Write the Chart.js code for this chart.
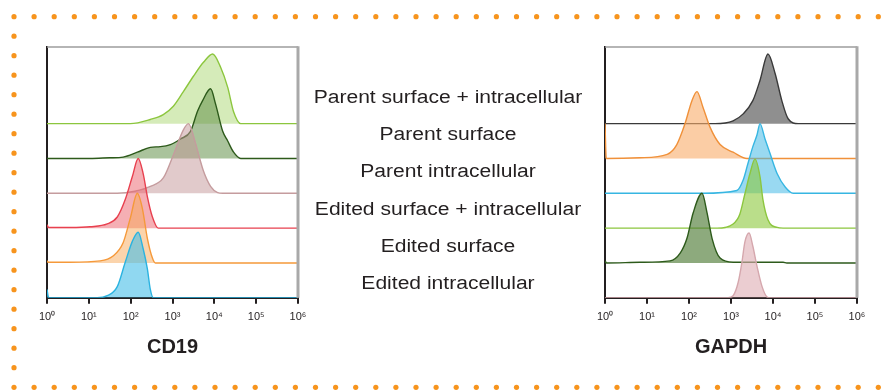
<!DOCTYPE html>
<html>
<head>
<meta charset="utf-8">
<script src="https://cdn.jsdelivr.net/npm/chart.js@4.4.1/dist/chart.umd.min.js"></script>
<style>
    html, body { margin: 0; padding: 0; background: #fff; }
    body { width: 894px; height: 390px; position: relative; overflow: hidden; }
    #dots { position: absolute; left: 0; top: 0; }
    .panel { position: absolute; top: 0; height: 370px; }
    #cd19Panel { left: 0; width: 330px; }
    #gapdhPanel { left: 560px; width: 334px; }
    .sample {
        position: absolute; left: 298px; width: 300px; text-align: center;
        font: 18px "Liberation Sans", Arial, sans-serif; color: #231f20;
        line-height: 20px; transform: scaleX(1.17); transform-origin: center;
    }
</style>
</head>
<body>
<svg id="dots" width="894" height="390"></svg>
<div class="panel" id="cd19Panel"><canvas id="cd19Chart"></canvas></div>
<div class="panel" id="gapdhPanel"><canvas id="gapdhChart"></canvas></div>
<div id="sampleLabels"></div>
<script>
// Row names, listed from the top row down
const sampleLabels = [
    'Parent surface + intracellular',
    'Parent surface',
    'Parent intracellular',
    'Edited surface + intracellular',
    'Edited surface',
    'Edited intracellular'
];

// Axis ticks, one per decade (10^0 .. 10^6)
const tickLabels = ['10⁰', '10¹', '10²', '10³', '10⁴', '10⁵', '10⁶'];

// Histograms: [log10 intensity, % of mode]
// CD19
const cd19EditedIntra = [[0, 12], [0.04, 0], [1.2, 0], [1.44, 3], [1.68, 16], [1.87, 51], [2.04, 81], [2.18, 94], [2.30, 70], [2.40, 41], [2.47, 12], [2.54, 0], [6, 0]];
const cd19EditedSurf = [[0, 3], [0.04, 1], [0.55, 1], [1.27, 3], [1.58, 10], [1.82, 29], [1.99, 64], [2.16, 100], [2.28, 78], [2.40, 35], [2.52, 7], [2.59, 0], [6, 0]];
const cd19EditedBoth = [[0, 5], [0.04, 1], [0.55, 1], [1.03, 2], [1.44, 6], [1.68, 16], [1.87, 41], [2.04, 74], [2.18, 100], [2.30, 78], [2.40, 45], [2.52, 16], [2.66, 0], [6, 0]];
const cd19ParentIntra = [[0, 0], [1.68, 0], [2.1, 3], [2.47, 10], [2.78, 22], [3.02, 55], [3.26, 91], [3.38, 100], [3.55, 72], [3.60, 61], [3.74, 32], [3.91, 10], [4.08, 1], [4.20, 0], [6, 0]];
const cd19ParentSurf = [[0, 0], [1.03, 0], [1.5, 1], [1.82, 2], [2.16, 9], [2.47, 16], [2.71, 17], [2.95, 20], [3.19, 28], [3.43, 39], [3.60, 68], [3.72, 83], [3.91, 100], [4.03, 78], [4.20, 39], [4.32, 25], [4.46, 9], [4.63, 0], [6, 0]];
const cd19ParentBoth = [[0, 0], [1.99, 0], [2.47, 6], [2.78, 13], [3.02, 25], [3.26, 46], [3.50, 68], [3.74, 88], [3.96, 100], [4.15, 81], [4.32, 52], [4.46, 17], [4.63, 0], [6, 0]];

// GAPDH
const gapdhEditedIntra = [[0, 0], [2.93, 0], [3.05, 3], [3.17, 22], [3.26, 51], [3.33, 80], [3.43, 93], [3.52, 74], [3.62, 45], [3.74, 16], [3.86, 1], [3.93, 0], [6, 0]];
const gapdhEditedSurf = [[0, 3], [0.04, 0], [0.83, 1], [1.55, 3], [1.79, 14], [1.95, 35], [2.10, 72], [2.31, 100], [2.43, 72], [2.55, 35], [2.74, 7], [3.05, 1], [4.24, 1], [4.33, 0], [6, 0]];
const gapdhEditedBoth = [[0, 0], [2.67, 0], [3.05, 6], [3.21, 20], [3.33, 49], [3.45, 78], [3.57, 99], [3.69, 74], [3.76, 41], [3.88, 12], [4.10, 1], [4.24, 0], [6, 0]];
const gapdhParentIntra = [[0, 0], [2.33, 0], [3.14, 4], [3.29, 19], [3.40, 42], [3.52, 67], [3.62, 84], [3.69, 100], [3.81, 78], [3.93, 57], [4.10, 28], [4.29, 9], [4.48, 0], [6, 0]];
const gapdhParentSurf = [[0, 50], [0.03, 0], [0.83, 1], [1.48, 6], [1.71, 20], [1.90, 49], [2.07, 83], [2.19, 96], [2.33, 74], [2.50, 45], [2.74, 20], [3.05, 9], [3.38, 0], [6, 0]];
const gapdhParentBoth = [[0, 0], [2.62, 0], [3.05, 4], [3.29, 14], [3.52, 33], [3.69, 62], [3.88, 100], [4.05, 72], [4.21, 33], [4.36, 7], [4.60, 0], [6, 0]];

// Each row sits this far above the one below it (in % of mode units)
const ROW_STEP = 50;

// Orange dotted frame around the figure
function drawDots() {
    const svg = document.getElementById('dots');
    let html = '';
    const dot = (x, y) => { html += `<circle cx="${x.toFixed(1)}" cy="${y.toFixed(1)}" r="2.6" fill="#f7941d"/>`; };
    for (let i = 0; i < 44; i++) {
        dot(14 + i * 20.1, 16.7);
        dot(14 + i * 20.1, 387.3);
    }
    for (let j = 1; j < 19; j++) dot(14, 16.7 + j * 19.5);
    svg.innerHTML = html;
}

// Row labels between the two panels
function drawSampleLabels() {
    const box = document.getElementById('sampleLabels');
    sampleLabels.forEach((text, i) => {
        const div = document.createElement('div');
        div.className = 'sample';
        div.textContent = text;
        div.style.top = (87 + i * 37.2) + 'px';
        box.appendChild(div);
    });
}

// Gray top and right edges of the plot box
const frameEdges = {
    id: 'frameEdges',
    afterDatasetsDraw(chart) {
        const { ctx, chartArea: a } = chart;
        ctx.save();
        ctx.strokeStyle = '#9d9d9d';
        ctx.lineWidth = 1.5;
        ctx.beginPath();
        ctx.moveTo(a.left, a.top);
        ctx.lineTo(a.right, a.top);
        ctx.stroke();
        ctx.strokeStyle = '#a9a9a9';
        ctx.lineWidth = 3;
        ctx.beginPath();
        ctx.moveTo(a.right, a.top - 0.75);
        ctx.lineTo(a.right, a.bottom);
        ctx.stroke();
        ctx.restore();
    }
};

// Builds one offset, filled histogram per row (row 0 = bottom row)
function buildDatasets(rows) {
    return rows.map((row, i) => {
        const base = i * ROW_STEP;
        return {
            data: row.values.map(p => ({ x: p[0], y: base + p[1] })),
            borderColor: row.line,
            backgroundColor: row.fill,
            borderWidth: 1.4,
            pointRadius: 0,
            cubicInterpolationMode: 'monotone',
            fill: { value: base }
        };
    });
}

function makeHistogramChart(canvasId, title, rows, pad) {
    const ctx = document.getElementById(canvasId).getContext('2d');
    return new Chart(ctx, {
        type: 'line',
        data: { datasets: buildDatasets(rows) },
        options: {
            responsive: true,
            maintainAspectRatio: false,
            animation: false,
            layout: { padding: pad },
            plugins: { legend: { display: false }, tooltip: { enabled: false } },
            scales: {
                x: {
                    type: 'linear',
                    min: 0,
                    max: 6,
                    afterBuildTicks: s => { s.ticks = tickLabels.map((_, i) => ({ value: i })); },
                    ticks: {
                        callback: v => tickLabels[v],
                        color: '#231f20',
                        font: { family: '"Liberation Sans", Arial, sans-serif', size: 11 },
                        padding: 7,
                        maxRotation: 0
                    },
                    grid: { drawOnChartArea: false, drawTicks: true, tickLength: 6, color: '#231f20', lineWidth: 2 },
                    border: { display: true, color: '#231f20', width: 2 },
                    title: {
                        display: true,
                        text: title,
                        color: '#231f20',
                        font: { family: '"Liberation Sans", Arial, sans-serif', size: 20, weight: 'bold' },
                        padding: { top: 4, bottom: 0 }
                    }
                },
                y: {
                    min: 0,
                    max: 360,
                    ticks: { display: false },
                    grid: { display: false, drawTicks: false },
                    border: { display: true, color: '#231f20', width: 2 }
                }
            }
        },
        plugins: [frameEdges]
    });
}

drawDots();
drawSampleLabels();

// CD19 panel, bottom row first
makeHistogramChart('cd19Chart', 'CD19', [
    { values: cd19EditedIntra, line: '#2bb3e0', fill: 'rgba(70,190,232,0.6)' },
    { values: cd19EditedSurf, line: '#f5993a', fill: 'rgba(248,170,90,0.5)' },
    { values: cd19EditedBoth, line: '#e8404f', fill: 'rgba(236,95,105,0.5)' },
    { values: cd19ParentIntra, line: '#c59c9e', fill: 'rgba(196,150,152,0.5)' },
    { values: cd19ParentSurf, line: '#2d5a1b', fill: 'rgba(100,145,75,0.55)' },
    { values: cd19ParentBoth, line: '#8cc63e', fill: 'rgba(150,205,80,0.4)' }
], { left: 47, top: 47, right: 32, bottom: 11 });

// GAPDH panel, bottom row first
makeHistogramChart('gapdhChart', 'GAPDH', [
    { values: gapdhEditedIntra, line: '#d5a7ad', fill: 'rgba(222,172,178,0.6)' },
    { values: gapdhEditedSurf, line: '#2d5a1b', fill: 'rgba(80,125,55,0.65)' },
    { values: gapdhEditedBoth, line: '#8cc63e', fill: 'rgba(140,200,60,0.6)' },
    { values: gapdhParentIntra, line: '#37b6e2', fill: 'rgba(70,185,230,0.55)' },
    { values: gapdhParentSurf, line: '#f0913a', fill: 'rgba(248,172,105,0.6)' },
    { values: gapdhParentBoth, line: '#3a3a3a', fill: 'rgba(95,95,95,0.7)' }
], { left: 45, top: 47, right: 37, bottom: 11 });
</script>
</body>
</html>
